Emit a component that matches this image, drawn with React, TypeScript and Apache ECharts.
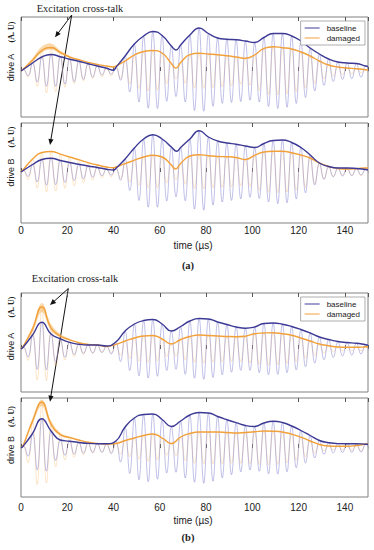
import React, { useEffect, useRef } from "react";
import * as echarts from "echarts";

// time samples (µs): start, carrier peaks, end
const times = [0, 1, 5, 9, 13, 17, 21, 25, 29, 33, 37, 41, 45, 49, 53, 57, 61, 65, 69, 73, 77, 81, 85, 89, 93, 97, 101, 105, 109, 113, 117, 121, 125, 129, 133, 137, 141, 145, 149, 150];
// carrier trough times (µs)
const troughTimes = [3, 7, 11, 15, 19, 23, 27, 31, 35, 39, 43, 47, 51, 55, 59, 63, 67, 71, 75, 79, 83, 87, 91, 95, 99, 103, 107, 111, 115, 119, 123, 127, 131, 135, 139, 143, 147, 151];
const bandTimes = [1, 5, 9, 13, 17, 21];

// (a) drive A
const baselineAA = [0, 1.5, 8, 14, 16.5, 14.3, 11.8, 9.7, 7.3, 5, 2.8, 3.5, 15, 27, 35, 39.5, 35.5, 25, 26, 36, 43, 37.5, 33, 31.7, 31.2, 30, 28.5, 33.5, 37.5, 37.5, 35, 30, 23, 17, 12, 9, 8, 7.5, 5, 4.3];
const baselineAAExtra = [[40, 0.8], [67, 21]];
const damagedAA = [0, 2, 10.7, 20.5, 23.5, 18.5, 14, 11.3, 8.6, 6.6, 5, 5, 10, 16, 19.5, 20.5, 18, 7.5, 8.5, 16.3, 17.7, 17, 16.3, 15.3, 14, 12.7, 16, 22.7, 24.3, 23.3, 22, 19, 15, 10, 6, 4, 3, 2.3, 1.2, 1];
const damagedAAExtra = [[40, 4], [67, 3]];
const bandHighAA = [2.5, 13, 24.5, 27.5, 20.5, 15];
const bandLowAA = [1.5, 9.5, 18.5, 21.5, 17, 13.5];
// (a) drive B
const baselineAB = [0, 1.5, 7.5, 12.5, 13.8, 11.5, 9.5, 7.8, 6, 4.5, 2.8, 3.5, 13, 24, 33, 37.3, 33, 25, 24.5, 33, 41.3, 35, 31, 29, 27.8, 26, 24.5, 28.5, 31.5, 32, 29.5, 24.5, 17, 9, 5.5, 4, 4, 3.5, 2.5, 2.3];
const baselineABExtra = [[40, 2], [67.3, 20.7]];
const damagedAB = [0, 2.5, 13, 19.5, 20.5, 17.8, 15, 12.3, 9.3, 7, 5, 5, 8.3, 11.8, 15, 16.7, 15, 7, 8.5, 16, 17.3, 16.3, 15.5, 15.3, 14.5, 12.5, 16.7, 20, 20.7, 20.7, 19.3, 17, 14, 9, 5.5, 3.5, 3, 3.3, 4, 4];
const damagedABExtra = [[40, 4.2], [66.8, 3]];
// (b) drive A
const baselineBA = [0, 2, 14, 26.7, 15, 10.2, 6.6, 4.7, 4, 4, 3, 7, 18, 25, 28.5, 29.5, 25, 18, 22.5, 28, 30.5, 30, 27, 24.5, 22, 20.8, 22, 25.5, 26, 24.8, 22.5, 19.5, 16, 12, 9.5, 7.5, 6.5, 5.7, 4.3, 4];
const damagedBA = [0, 3, 20, 42.3, 21, 13, 9.3, 6.3, 4.6, 4, 2.5, 4.7, 8, 11, 13, 13.5, 10, 5, 9.5, 12.5, 14, 13.5, 13, 12.5, 12.3, 12.8, 15.3, 16, 16.3, 15.3, 13.7, 11, 8, 5, 3.3, 2, 1.7, 1.7, 2.2, 2.3];
const bandHighBA = [3.5, 23, 46, 25, 15, 10];
const bandLowBA = [2.5, 17, 37, 18, 11.5, 8.5];
// (b) drive B
const baselineBB = [0, 2, 14.5, 29.3, 17, 8, 6.8, 5.5, 4.6, 4.3, 4.3, 7, 21, 30, 33.5, 34, 28.5, 21.5, 27, 33, 35.5, 35, 31.5, 28.3, 25.3, 22.5, 21.5, 25, 26.7, 25.5, 22, 17.5, 12.5, 7.5, 5.3, 4.4, 4.3, 4.3, 3.8, 3.7];
const damagedBB = [0, 3, 27, 46, 24, 13.5, 10.5, 8, 5.8, 4.6, 3.9, 4.5, 7.5, 10, 12.5, 14, 10, 4.5, 11, 14.5, 16, 16, 16, 15.5, 15, 15.5, 16.2, 17, 16.8, 16, 13.8, 10.8, 7, 3.5, 2, 1.7, 1.7, 2.5, 4, 4.3];
const bandHighBB = [3.5, 30, 48.5, 27, 15, 11];
const bandLowBB = [2.5, 24, 42, 21, 12, 10];

const yRanges = [[-46, 54], [-51, 49], [-43, 56], [-49, 50]];
const xTickLabels = ["0", "20", "40", "60", "80", "100", "120", "140"];
const legendNames = ["baseline", "damaged"];

const BLUE = "#3d3a96";
const BLUE_LIGHT = "rgba(120,118,205,0.5)";
const ORANGE = "#f2a13a";
const ORANGE_LIGHT = "rgba(245,175,80,0.35)";

function oscillation(env: number[]) {
  const pts: number[][] = [[times[0], env[0]]];
  for (let i = 1; i <= troughTimes.length; i++) {
    pts.push([times[i], env[i]]);
    pts.push([troughTimes[i - 1], -(env[i] + env[i + 1]) / 2]);
  }
  return pts;
}

function envelope(env: number[], extra: number[][]) {
  const pts = times.map((t, k) => [t, env[k]]).concat(extra);
  return pts.sort((a, b) => a[0] - b[0]);
}

function arrow(x0: number, y0: number, x1: number, y1: number) {
  const dx = x1 - x0, dy = y1 - y0;
  const len = Math.sqrt(dx * dx + dy * dy);
  const ux = dx / len, uy = dy / len;
  const nx = -uy, ny = ux;
  const hl = 6, hw = 2.6;
  return [
    { type: "line", shape: { x1: x0, y1: y0, x2: x1 - ux * 3, y2: y1 - uy * 3 }, style: { stroke: "#111", lineWidth: 1 } },
    {
      type: "polygon",
      shape: { points: [[x1, y1], [x1 - ux * hl + nx * hw, y1 - uy * hl + ny * hw], [x1 - ux * hl - nx * hw, y1 - uy * hl - ny * hw]] },
      style: { fill: "#111" },
    },
  ];
}

function rotText(text: string, x: number, y: number, font: string) {
  return {
    type: "text",
    x,
    y,
    rotation: Math.PI / 2,
    style: { text, font, fill: "#222", align: "center", verticalAlign: "middle" },
  };
}

function plainText(text: string, x: number, y: number, font: string) {
  return { type: "text", x, y, style: { text, font, fill: "#222", align: "center", verticalAlign: "middle" } };
}

export default function App() {
  const ref = useRef<HTMLDivElement>(null);
  useEffect(() => {
    if (!ref.current) return;
    const chart = echarts.init(ref.current, null, { renderer: "svg" });
    const panels = [
      { base: baselineAA, baseX: baselineAAExtra, dmg: damagedAA, dmgX: damagedAAExtra, hi: bandHighAA, lo: bandLowAA },
      { base: baselineAB, baseX: baselineABExtra, dmg: damagedAB, dmgX: damagedABExtra, hi: null, lo: null },
      { base: baselineBA, baseX: [], dmg: damagedBA, dmgX: [], hi: bandHighBA, lo: bandLowBA },
      { base: baselineBB, baseX: [], dmg: damagedBB, dmgX: [], hi: bandHighBB, lo: bandLowBB },
    ];
    const grids = [
      { left: 21, right: 6, top: 17, height: 100 },
      { left: 21, right: 6, top: 123, height: 100 },
      { left: 21, right: 6, top: 293, height: 99 },
      { left: 21, right: 6, top: 398, height: 99 },
    ].map((g) => ({ ...g, show: true, borderColor: "#808080", borderWidth: 1, backgroundColor: "transparent" }));

    const labelMargins = [2, 2, 5, 5];
    const xAxes: any[] = [];
    for (let i = 0; i < 4; i++) {
      xAxes.push({
        gridIndex: i,
        type: "value",
        min: 0,
        max: 150,
        interval: 20,
        position: "bottom",
        axisLine: { show: false },
        axisTick: { show: true, inside: true, length: 4, lineStyle: { color: "#555" } },
        axisLabel: {
          show: i === 1 || i === 3,
          margin: labelMargins[i],
          fontSize: 10,
          color: "#222",
          fontFamily: "Liberation Sans",
          showMaxLabel: false,
          formatter: (v: number) => xTickLabels[Math.round(v / 20)] ?? "",
        },
        splitLine: { show: false },
      });
    }
    for (let i = 0; i < 4; i++) {
      xAxes.push({
        gridIndex: i,
        type: "value",
        min: 0,
        max: 150,
        interval: 20,
        position: "top",
        axisLine: { show: false },
        axisTick: { show: true, inside: true, length: 4, lineStyle: { color: "#555" } },
        axisLabel: { show: false },
        splitLine: { show: false },
      });
    }
    const yAxes = yRanges.map((r, i) => ({
      gridIndex: i,
      type: "value",
      min: r[0],
      max: r[1],
      show: false,
    }));

    const series: any[] = [];
    panels.forEach((p, i) => {
      series.push({
        name: "damaged signal",
        type: "line",
        xAxisIndex: i,
        yAxisIndex: i,
        data: oscillation(p.dmg),
        smooth: 0.45,
        symbol: "none",
        silent: true,
        lineStyle: { color: ORANGE_LIGHT, width: 0.9 },
      });
      series.push({
        name: "baseline signal",
        type: "line",
        xAxisIndex: i,
        yAxisIndex: i,
        data: oscillation(p.base),
        smooth: 0.45,
        symbol: "none",
        silent: true,
        lineStyle: { color: BLUE_LIGHT, width: 0.9 },
      });
      if (p.hi && p.lo) {
        const hi = p.hi, lo = p.lo;
        series.push({
          name: "damaged spread",
          type: "custom",
          coordinateSystem: "cartesian2d",
          xAxisIndex: i,
          yAxisIndex: i,
          silent: true,
          data: bandTimes.map((t, k) => [t, lo[k], hi[k]]),
          encode: { x: 0, y: [1, 2] },
          renderItem: (params: any, api: any) => {
            if (params.dataIndex !== 0) return null;
            const upper = bandTimes.map((t, k) => api.coord([t, hi[k]]));
            const lower = bandTimes.map((t, k) => api.coord([t, lo[k]])).reverse();
            return {
              type: "polygon",
              shape: { points: upper.concat(lower), smooth: 0.35 },
              style: { fill: "rgba(245,180,90,0.5)" },
            };
          },
        });
      }
      series.push({
        name: "damaged",
        type: "line",
        xAxisIndex: i,
        yAxisIndex: i,
        data: envelope(p.dmg, p.dmgX),
        smooth: 0.5,
        symbol: "none",
        silent: true,
        color: ORANGE,
        lineStyle: { color: ORANGE, width: 1.4 },
      });
      series.push({
        name: "baseline",
        type: "line",
        xAxisIndex: i,
        yAxisIndex: i,
        data: envelope(p.base, p.baseX),
        smooth: 0.5,
        symbol: "none",
        silent: true,
        color: BLUE,
        lineStyle: { color: BLUE, width: 1.4 },
      });
    });

    const legendBase = {
      orient: "vertical",
      right: 9,
      data: legendNames,
      icon: "rect",
      itemWidth: 15,
      itemHeight: 1,
      itemGap: 2,
      padding: [3, 5, 3, 4],
      borderColor: "#999",
      borderWidth: 0.8,
      backgroundColor: "#fff",
      selectedMode: false,
      textStyle: { fontSize: 8, color: "#222", fontFamily: "Liberation Sans", padding: [0, 0, 0, 2] },
    };

    const graphic: any[] = [
      plainText("Excitation cross-talk", 80, 8.5, '10.5px "Liberation Serif"'),
      plainText("Excitation cross-talk", 75, 278.5, '10.5px "Liberation Serif"'),
      ...arrow(71.7, 15, 55, 37.3),
      ...arrow(71.7, 15, 50, 145),
      ...arrow(68.3, 288.5, 50, 305),
      ...arrow(68.3, 288.5, 50, 401.7),
      rotText("drive A", 11, 67.5, '9px "Liberation Sans"'),
      rotText("(A. U)", 11, 32, 'bold 8px "Liberation Serif"'),
      rotText("drive B", 11, 172.5, '9px "Liberation Sans"'),
      rotText("(A. U)", 11, 137, 'bold 8px "Liberation Serif"'),
      rotText("drive A", 11, 346.5, '9px "Liberation Sans"'),
      rotText("(A. U)", 11, 307, 'bold 8px "Liberation Serif"'),
      rotText("drive B", 11, 450, '9px "Liberation Sans"'),
      rotText("(A. U)", 11, 416.5, 'bold 8px "Liberation Serif"'),
      plainText("time (µs)", 193, 245, '10px "Liberation Sans"'),
      plainText("time (µs)", 193, 520, '10px "Liberation Sans"'),
      plainText("(a)", 188, 265, 'bold 10.5px "Liberation Serif"'),
      plainText("(b)", 188, 537, 'bold 10.5px "Liberation Serif"'),
    ];

    chart.setOption({
      animation: false,
      backgroundColor: "#fff",
      grid: grids,
      xAxis: xAxes,
      yAxis: yAxes,
      legend: [
        { ...legendBase, top: 21 },
        { ...legendBase, top: 297 },
      ],
      series,
      graphic,
    });
    return () => chart.dispose();
  }, []);
  return <div ref={ref} style={{ position: "absolute", left: 0, top: 0, width: 374, height: 550 }} />;
}
